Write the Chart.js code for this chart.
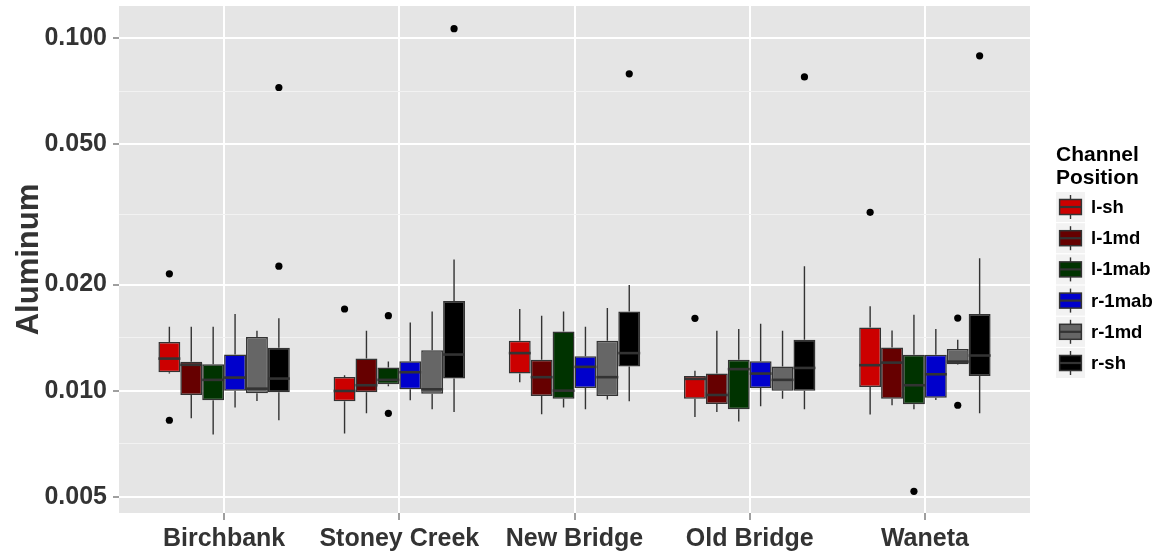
<!DOCTYPE html>
<html>
<head>
<meta charset="utf-8">
<script src="https://cdn.jsdelivr.net/npm/chart.js@4.4.1/dist/chart.umd.min.js"></script>
<style>
  body { margin: 0; background: #fff; }
  canvas { display: block; }
</style>
</head>
<body>
<canvas id="chart" width="1168" height="554"></canvas>
<script>
const sites = ['Birchbank', 'Stoney Creek', 'New Bridge', 'Old Bridge', 'Waneta']
const positions = ['l-sh', 'l-1md', 'l-1mab', 'r-1mab', 'r-1md', 'r-sh']
const colors = ['#CC0000', '#660000', '#003300', '#0000CC', '#666666', '#000000']

// [lower whisker, Q1, median, Q3, upper whisker] per site
const lSh = [
    [0.01118, 0.01128, 0.01233, 0.01374, 0.01518],
    [0.00756, 0.00933, 0.00998, 0.01094, 0.01106],
    [0.01057, 0.01118, 0.01278, 0.01385, 0.01705],
    [0.00842, 0.00949, 0.01080, 0.01101, 0.01138],
    [0.00855, 0.01024, 0.01181, 0.01512, 0.01735]
]
const l1md = [
    [0.00835, 0.00972, 0.01184, 0.01207, 0.01518],
    [0.00862, 0.00990, 0.01036, 0.01233, 0.01479],
    [0.00857, 0.00966, 0.01092, 0.01223, 0.01632],
    [0.00870, 0.00917, 0.00972, 0.01118, 0.01479],
    [0.00909, 0.00949, 0.01201, 0.01326, 0.01482]
]
const l1mab = [
    [0.00751, 0.00939, 0.01073, 0.01189, 0.01518],
    [0.01029, 0.01043, 0.01073, 0.01163, 0.01209],
    [0.00895, 0.00949, 0.01000, 0.01473, 0.01676],
    [0.00818, 0.00885, 0.01151, 0.01223, 0.01496],
    [0.00885, 0.00915, 0.01036, 0.01264, 0.01643]
]
const r1mab = [
    [0.00895, 0.01000, 0.01089, 0.01266, 0.01651],
    [0.00939, 0.01009, 0.01128, 0.01212, 0.01562],
    [0.00885, 0.01018, 0.01168, 0.01253, 0.01518],
    [0.00903, 0.01018, 0.01118, 0.01212, 0.01549],
    [0.00941, 0.00955, 0.01113, 0.01264, 0.01496]
]
const r1md = [
    [0.00935, 0.00983, 0.01013, 0.01419, 0.01479],
    [0.00885, 0.00980, 0.01009, 0.01303, 0.01676],
    [0.00943, 0.00966, 0.01092, 0.01385, 0.01717],
    [0.00949, 0.01000, 0.01073, 0.01170, 0.01479],
    [0.01184, 0.01189, 0.01209, 0.01312, 0.01394]
]
const rSh = [
    [0.00824, 0.00990, 0.01082, 0.01323, 0.01604],
    [0.00870, 0.01082, 0.01266, 0.01797, 0.02356],
    [0.00933, 0.01170, 0.01278, 0.01676, 0.01996],
    [0.00885, 0.01000, 0.01160, 0.01394, 0.02255],
    [0.00862, 0.01101, 0.01258, 0.01651, 0.02377]
]

// outliers per site
const lShOut = [[0.02145, 0.00824], [0.01705], [], [0.01604], [0.03207]]
const l1mdOut = [[], [], [], [], []]
const l1mabOut = [[], [0.01632, 0.00862], [], [], [0.00518]]
const r1mabOut = [[], [], [], [], []]
const r1mdOut = [[], [], [], [], [0.01607, 0.00909]]
const rShOut = [[0.02255, 0.0725], [0.1065], [0.0793], [0.0777], [0.0892]]

const yTicks = [0.005, 0.01, 0.02, 0.05, 0.1]
const yTickLabels = ['0.005', '0.010', '0.020', '0.050', '0.100']

const stats = [lSh, l1md, l1mab, r1mab, r1md, rSh]
const outliers = [lShOut, l1mdOut, l1mabOut, r1mabOut, r1mdOut, rShOut]

// minor grid lines half way (in log space) between the major ticks
const yMinor = []
for (let i = 0; i < yTicks.length - 1; i++) yMinor.push(Math.sqrt(yTicks[i] * yTicks[i + 1]))
const yAll = yTicks.concat(yMinor).sort((a, b) => a - b)
const isMajor = v => yTicks.some(t => Math.abs(t - v) < 1e-9)

const FONT = '"Liberation Sans", Arial, sans-serif'

const boxExtras = {
    id: 'boxExtras',
    beforeDraw(chart) {
        const a = chart.chartArea
        const ctx = chart.ctx
        ctx.save()
        ctx.fillStyle = '#E5E5E5'
        ctx.fillRect(a.left, a.top, a.right - a.left, a.bottom - a.top)
        ctx.restore()
    },
    afterDatasetsDraw(chart) {
        const ctx = chart.ctx
        const y = chart.scales.y
        ctx.save()
        stats.forEach((series, d) => {
            const meta = chart.getDatasetMeta(d)
            meta.data.forEach((bar, i) => {
                const s = series[i]
                const x = bar.x
                const half = bar.width / 2
                ctx.strokeStyle = '#333333'
                ctx.lineWidth = 1.4
                ctx.beginPath()
                ctx.moveTo(x, y.getPixelForValue(s[3]))
                ctx.lineTo(x, y.getPixelForValue(s[4]))
                ctx.moveTo(x, y.getPixelForValue(s[1]))
                ctx.lineTo(x, y.getPixelForValue(s[0]))
                ctx.stroke()
                ctx.lineWidth = 2.6
                ctx.beginPath()
                const my = y.getPixelForValue(s[2])
                ctx.moveTo(x - half, my)
                ctx.lineTo(x + half, my)
                ctx.stroke()
                ctx.fillStyle = '#000000'
                outliers[d][i].forEach(v => {
                    ctx.beginPath()
                    ctx.arc(x, y.getPixelForValue(v), 3.6, 0, Math.PI * 2)
                    ctx.fill()
                })
            })
        })
        ctx.restore()
    },
    afterDraw(chart) {
        const ctx = chart.ctx
        ctx.save()
        ctx.fillStyle = '#000000'
        ctx.textBaseline = 'middle'
        ctx.textAlign = 'left'
        ctx.font = 'bold 21px ' + FONT
        ctx.fillText('Channel', 1056, 155)
        ctx.fillText('Position', 1056, 178)
        const kx = 1056, kw = 29, kh = 30
        positions.forEach((p, i) => {
            const ky = 192 + i * 31.2
            ctx.fillStyle = '#F2F2F2'
            ctx.fillRect(kx, ky, kw, kh)
            const cx = kx + kw / 2
            ctx.strokeStyle = '#333333'
            ctx.lineWidth = 1.4
            ctx.beginPath()
            ctx.moveTo(cx, ky + kh * 0.1)
            ctx.lineTo(cx, ky + kh * 0.9)
            ctx.stroke()
            ctx.fillStyle = colors[i]
            const bx = kx + kw * 0.125, bw = kw * 0.75, by = ky + kh * 0.25, bh = kh * 0.5
            ctx.fillRect(bx, by, bw, bh)
            ctx.lineWidth = 1.5
            ctx.strokeRect(bx, by, bw, bh)
            ctx.lineWidth = 2.2
            ctx.beginPath()
            ctx.moveTo(bx, ky + kh / 2)
            ctx.lineTo(bx + bw, ky + kh / 2)
            ctx.stroke()
            ctx.fillStyle = '#000000'
            ctx.font = 'bold 18.5px ' + FONT
            ctx.fillText(p, 1091, ky + kh / 2 + 1)
        })
        ctx.restore()
    }
}

const ctx = document.getElementById('chart').getContext('2d')
const chart = new Chart(ctx, {
    type: 'bar',
    data: {
        datasets: positions.map((p, d) => ({
            label: p,
            data: sites.map((s, i) => ({x: i + 1, y: [stats[d][i][1], stats[d][i][3]]})),
            backgroundColor: colors[d],
            borderColor: '#333333',
            borderWidth: 1.5,
            borderSkipped: false,
            categoryPercentage: 0.75,
            barPercentage: 1.0
        }))
    },
    options: {
        responsive: false,
        animation: false,
        layout: {padding: {left: 0, right: 138, top: 6, bottom: 0}},
        plugins: {legend: {display: false}, tooltip: {enabled: false}},
        scales: {
            x: {
                type: 'linear',
                min: 0.4,
                max: 5.6,
                offset: false,
                afterBuildTicks: s => { s.ticks = sites.map((n, i) => ({value: i + 1})) },
                afterFit: s => { s.height = 41; s.paddingLeft = 0; s.paddingRight = 0 },
                ticks: {
                    autoSkip: false,
                    maxRotation: 0,
                    padding: 4,
                    color: '#333333',
                    font: {family: FONT, size: 25, weight: 'bold'},
                    callback: v => sites[Math.round(v) - 1]
                },
                grid: {offset: false, color: '#FFFFFF', lineWidth: 2, tickColor: '#7F7F7F', tickLength: 7, tickWidth: 1.5},
                border: {display: false}
            },
            y: {
                type: 'logarithmic',
                min: 0.004495,
                max: 0.1235,
                afterBuildTicks: s => { s.ticks = yAll.map(v => ({value: v})) },
                afterFit: s => { s.width = 119; s.paddingTop = 0; s.paddingBottom = 0 },
                ticks: {
                    autoSkip: false,
                    padding: 6,
                    color: '#333333',
                    font: {family: FONT, size: 25, weight: 'bold'},
                    callback: v => {
                        const k = yTicks.findIndex(t => Math.abs(t - v) < 1e-9)
                        return k >= 0 ? yTickLabels[k] : ''
                    }
                },
                grid: {
                    color: c => isMajor(c.tick.value) ? '#FFFFFF' : '#F2F2F2',
                    lineWidth: c => isMajor(c.tick.value) ? 2 : 1,
                    tickColor: c => isMajor(c.tick.value) ? '#7F7F7F' : 'rgba(0,0,0,0)',
                    tickLength: 6,
                    tickWidth: 1.5
                },
                border: {display: false},
                title: {
                    display: true,
                    text: 'Aluminum',
                    color: '#333333',
                    font: {family: FONT, size: 31, weight: 'bold'},
                    padding: {top: 11, bottom: 0}
                }
            }
        }
    },
    plugins: [boxExtras]
})
</script>
</body>
</html>
